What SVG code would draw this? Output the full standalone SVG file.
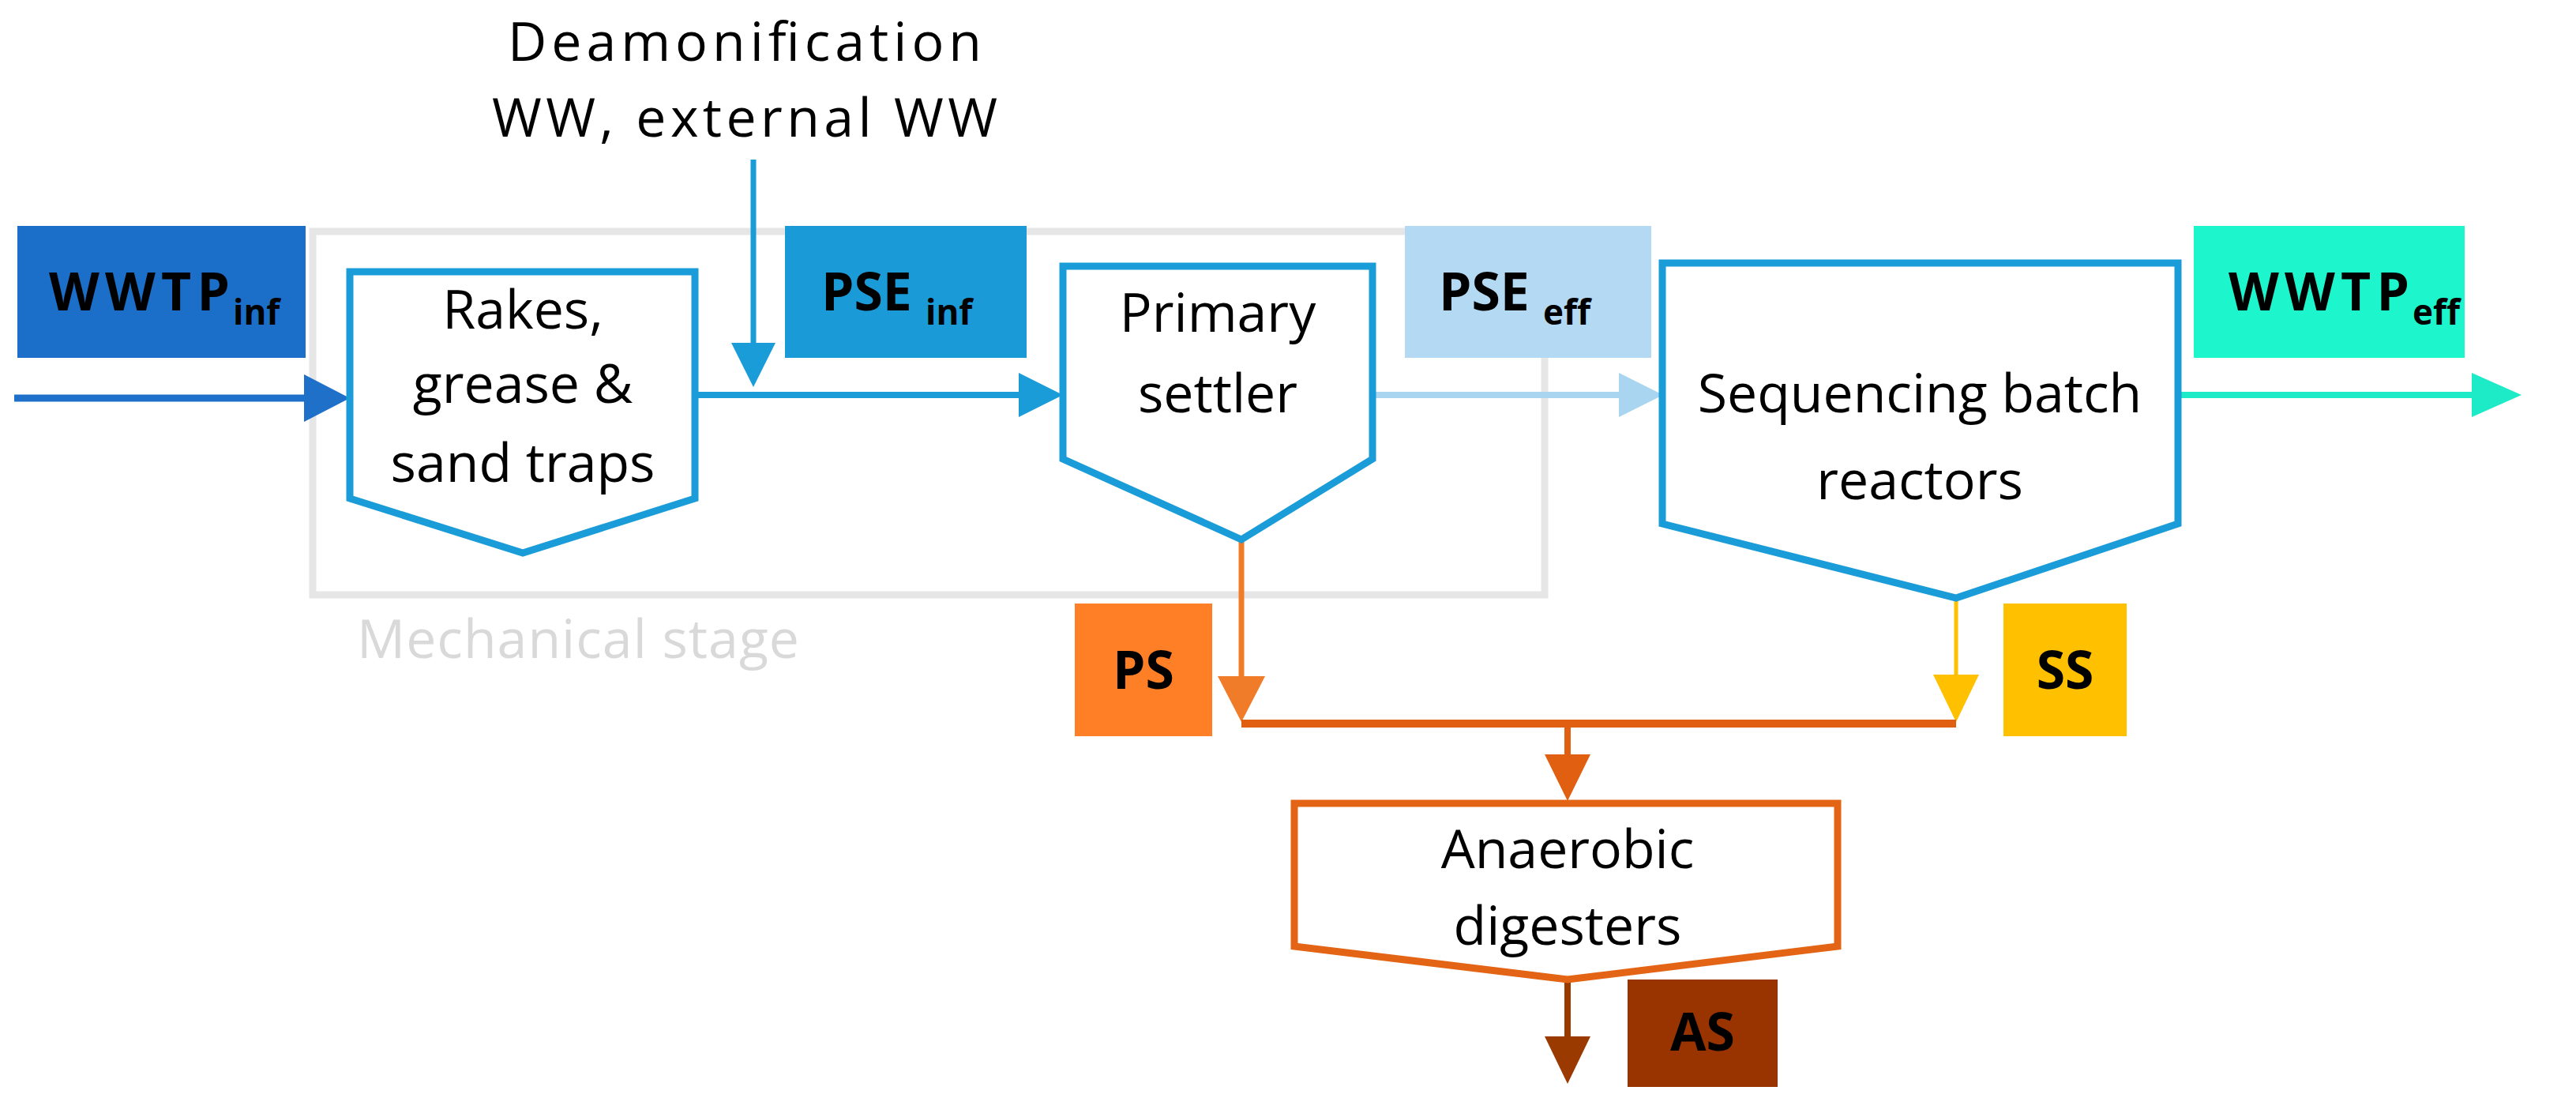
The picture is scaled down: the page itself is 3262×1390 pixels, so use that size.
<svg xmlns="http://www.w3.org/2000/svg" width="3262" height="1390" viewBox="0 0 3262 1390">
<style>
.t{font-family:"Open Sans","Liberation Sans",sans-serif;font-size:68px;fill:#000;text-anchor:middle}
.b{font-family:"Open Sans","Liberation Sans",sans-serif;font-size:66px;font-weight:bold;fill:#000}
.s{font-size:44px}
.node{fill:#fff;stroke-width:9;stroke-linejoin:miter}
</style>
<rect width="3262" height="1390" fill="#fff"/>
<g id="mechanical-stage">
<rect x="396" y="293" width="1560" height="460" fill="none" stroke="#E6E6E6" stroke-width="9"/>
<text x="732" y="833" class="t" fill="#D9D9D9" style="fill:#D9D9D9" textLength="560">Mechanical stage</text>
</g>
<g id="connectors">
<line x1="18" y1="504" x2="390" y2="504" stroke="#1F70C8" stroke-width="9"/>
<polygon points="385,474 443,504 385,534" fill="#1F70C8"/>
<line x1="954" y1="202" x2="954" y2="440" stroke="#1A9CD8" stroke-width="7"/>
<polygon points="926,434 982,434 954,490" fill="#1A9CD8"/>
<line x1="880" y1="500" x2="1295" y2="500" stroke="#1A9CD8" stroke-width="8"/>
<polygon points="1290,472 1346,500 1290,528" fill="#1A9CD8"/>
<line x1="1738" y1="500" x2="2055" y2="500" stroke="#A9D5F0" stroke-width="8"/>
<polygon points="2050,472 2106,500 2050,528" fill="#A9D5F0"/>
<line x1="2758" y1="500" x2="3135" y2="500" stroke="#1DEBC8" stroke-width="8"/>
<polygon points="3130,472 3193,500 3130,528" fill="#1DEBC8"/>
<line x1="1572" y1="683" x2="1572" y2="860" stroke="#F07C2A" stroke-width="7"/>
<polygon points="1542,856 1602,856 1572,914" fill="#F07C2A"/>
<line x1="2477" y1="757" x2="2477" y2="858" stroke="#FFC000" stroke-width="5"/>
<polygon points="2448,854 2506,854 2477,914" fill="#FFC000"/>
<line x1="1572" y1="916" x2="2477" y2="916" stroke="#E05F10" stroke-width="10"/>
<line x1="1985" y1="916" x2="1985" y2="960" stroke="#E05F10" stroke-width="8"/>
<polygon points="1956,955 2014,955 1985,1014" fill="#E05F10"/>
<line x1="1985" y1="1240" x2="1985" y2="1316" stroke="#9A3A00" stroke-width="8"/>
<polygon points="1956,1312 2014,1312 1985,1372" fill="#9A3A00"/>
</g>
<g id="deamonification">
<text x="943" y="77" class="t" textLength="600">Deamonification</text>
<text x="943" y="173" class="t" textLength="640">WW, external WW</text>
</g>
<g id="wwtp-inf">
<rect x="22" y="286" width="365" height="167" fill="#1B6FC8"/>
<text x="62" y="393" class="b" textLength="229">WWTP</text>
<text x="295" y="411" class="b s">inf</text>
</g>
<g id="rakes">
<polygon points="443,344 880,344 880,631 662,700 443,631" class="node" stroke="#1A9CD8"/>
<text x="662" y="416" class="t">Rakes,</text>
<text x="662" y="510" class="t">grease &amp;</text>
<text x="662" y="610" class="t">sand traps</text>
</g>
<g id="pse-inf">
<rect x="994" y="286" width="306" height="167" fill="#1A9AD6"/>
<text x="1040" y="393" class="b">PSE</text>
<text x="1172" y="411" class="b s">inf</text>
</g>
<g id="primary-settler">
<polygon points="1346,337 1738,337 1738,581 1572,683 1346,581" class="node" stroke="#1A9CD8"/>
<text x="1542" y="420" class="t">Primary</text>
<text x="1542" y="522" class="t">settler</text>
</g>
<g id="pse-eff">
<rect x="1779" y="286" width="312" height="167" fill="#B4D9F2"/>
<text x="1822" y="393" class="b">PSE</text>
<text x="1954" y="411" class="b s">eff</text>
</g>
<g id="sbr">
<polygon points="2105,333 2758,333 2758,663 2477,757 2105,663" class="node" stroke="#1A9CD8"/>
<text x="2431" y="522" class="t">Sequencing batch</text>
<text x="2431" y="632" class="t">reactors</text>
</g>
<g id="wwtp-eff">
<rect x="2778" y="286" width="343" height="167" fill="#1DF5CC"/>
<text x="2822" y="393" class="b" textLength="229">WWTP</text>
<text x="3055" y="411" class="b s">eff</text>
</g>
<g id="ps">
<rect x="1361" y="764" width="174" height="168" fill="#FF7F27"/>
<text x="1448" y="872" class="b" text-anchor="middle">PS</text>
</g>
<g id="ss">
<rect x="2537" y="764" width="156" height="168" fill="#FFC000"/>
<text x="2615" y="872" class="b" text-anchor="middle">SS</text>
</g>
<g id="anaerobic-digesters">
<polygon points="1639,1017 2327,1017 2327,1198 1985,1240 1639,1198" class="node" stroke="#E36414"/>
<text x="1985" y="1099" class="t">Anaerobic</text>
<text x="1985" y="1196" class="t">digesters</text>
</g>
<g id="as">
<rect x="2061" y="1240" width="190" height="136" fill="#993300"/>
<text x="2156" y="1330" class="b" text-anchor="middle">AS</text>
</g>
</svg>
